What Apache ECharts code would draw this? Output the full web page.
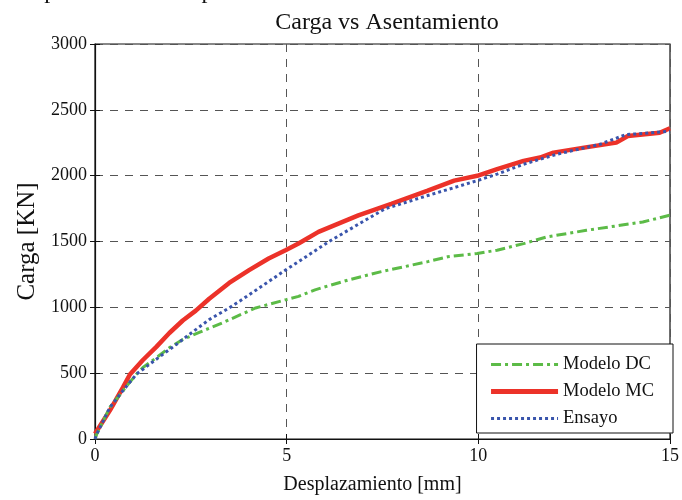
<!DOCTYPE html>
<html>
<head>
<meta charset="utf-8">
<script src="https://cdn.jsdelivr.net/npm/echarts@6/dist/echarts.min.js"></script>
<style>html,body{margin:0;padding:0;background:#fff}#c{width:682px;height:500px}</style>
</head>
<body>
<div id="c"></div>
<script>
var xTicks = [0, 5, 10, 15];
var yTicks = [0, 500, 1000, 1500, 2000, 2500, 3000];
var seriesNames = ['Modelo DC', 'Modelo MC', 'Ensayo'];

var dcX = [0,0.05,0.39,0.73,1.08,1.25,1.6,1.94,2.29,2.72,3.32,4.19,4.97,5.31,5.74,6.61,7.47,8.68,9.2,9.97,10.49,11.18,11.79,12.82,14.29,15];
var dcY = [0,40,241,367,492,543,618,693,756,810,882,995,1057,1083,1133,1208,1271,1347,1384,1409,1434,1484,1535,1585,1648,1700];

var mcX = [0,0.05,0.39,0.73,0.91,1.25,1.6,1.94,2.29,2.63,2.98,3.5,4.02,4.53,4.97,5.31,5.83,6.87,7.73,8.68,9.37,9.97,10.49,11.18,11.61,11.96,12.8,13.6,13.9,14.73,15];
var mcY = [40,53,218,392,490,600,700,805,900,975,1065,1185,1283,1371,1434,1485,1573,1698,1786,1886,1962,1999,2050,2112,2138,2175,2215,2251,2301,2326,2360];

var enX = [0,0.05,0.39,0.73,1.08,1.42,1.77,2.12,2.46,2.98,3.5,4.02,4.53,4.97,5.31,6.09,7.04,7.56,8.68,9.97,10.49,11.18,12.05,13.17,13.86,14.3,15];
var enY = [0,40,241,367,492,567,643,718,794,907,995,1095,1196,1283,1347,1497,1660,1748,1849,1962,2012,2087,2163,2238,2313,2320,2338];

function pairs(xs, ys){ return xs.map(function(x,i){ return [x, ys[i]]; }); }

var FONT = 'Liberation Serif';
var chart = echarts.init(document.getElementById('c'), null, {renderer:'canvas'});
var splitLine = {show:true, lineStyle:{color:'#555', type:[8,7], width:1}};
chart.setOption({
  animation:false,
  backgroundColor:'#fff',
  title:{text:'Carga vs Asentamiento', left:382, textAlign:'center', top:6,
    textStyle:{fontFamily:FONT, fontSize:24, fontWeight:'normal', color:'#111'}},
  graphic:[{type:'text', left:3, top:-20, style:{text:'comportamiento del pilote.', font:'24px "Liberation Serif"', fill:'#111'}}],
  grid:{left:95, right:9, top:44, bottom:58, show:true, borderColor:'#111', borderWidth:1.2},
  legend:{right:9, top:344, orient:'vertical', backgroundColor:'#fff', borderColor:'#111', borderWidth:1,
    padding:[10,19,4,12], itemWidth:67, itemHeight:14, itemGap:6,
    itemStyle:{opacity:0},
    textStyle:{fontFamily:FONT, fontSize:18.5, color:'#111', lineHeight:21},
    data:[
      {name:seriesNames[0], lineStyle:{width:3}},
      {name:seriesNames[1], lineStyle:{width:5}},
      {name:seriesNames[2], lineStyle:{width:3}}
    ]},
  xAxis:[{type:'value', min:0, max:15, interval:5, name:'Desplazamiento [mm]', nameLocation:'middle', nameGap:36,
      nameTextStyle:{fontFamily:FONT, fontSize:20, color:'#111', padding:[0,20,0,0]},
      axisLine:{show:true, lineStyle:{color:'#111', width:1.2}},
      axisTick:{show:true, inside:true, length:5, lineStyle:{color:'#111'}},
      axisLabel:{fontFamily:FONT, fontSize:18, color:'#111', margin:8, formatter:function(v){return xTicks.indexOf(v)>=0?String(v):'';}},
      splitLine:splitLine},
    {type:'value', position:'top', min:0, max:15, interval:5, axisLine:{show:false},
      axisTick:{show:true, inside:true, length:5, lineStyle:{color:'#111'}}, axisLabel:{show:false}, splitLine:{show:false}}],
  yAxis:[{type:'value', min:0, max:3000, interval:500, name:'Carga [KN]', nameLocation:'middle', nameGap:54,
      nameTextStyle:{fontFamily:FONT, fontSize:25, color:'#111'},
      axisLine:{show:true, lineStyle:{color:'#111', width:1.2}},
      axisTick:{show:true, inside:true, length:5, lineStyle:{color:'#111'}},
      axisLabel:{fontFamily:FONT, fontSize:18, color:'#111', margin:8, formatter:function(v){return yTicks.indexOf(v)>=0?String(v):'';}},
      splitLine:splitLine},
    {type:'value', position:'right', min:0, max:3000, interval:500, axisLine:{show:false},
      axisTick:{show:true, inside:true, length:5, lineStyle:{color:'#111'}}, axisLabel:{show:false}, splitLine:{show:false}}],
  series:[
    {name:seriesNames[0], type:'line', showSymbol:false, symbol:'none', data:pairs(dcX,dcY), z:3,
      lineStyle:{color:'#5cbb47', width:3, type:[10,4,3,4]}, itemStyle:{color:'#5cbb47'}},
    {name:seriesNames[1], type:'line', showSymbol:false, symbol:'none', data:pairs(mcX,mcY), z:2,
      lineStyle:{color:'#ec3229', width:4.5}, itemStyle:{color:'#ec3229'}},
    {name:seriesNames[2], type:'line', showSymbol:false, symbol:'none', data:pairs(enX,enY), z:4,
      lineStyle:{color:'#3a55ac', width:3, type:[3,3]}, itemStyle:{color:'#3a55ac'}}
  ]
});
</script>
</body>
</html>
